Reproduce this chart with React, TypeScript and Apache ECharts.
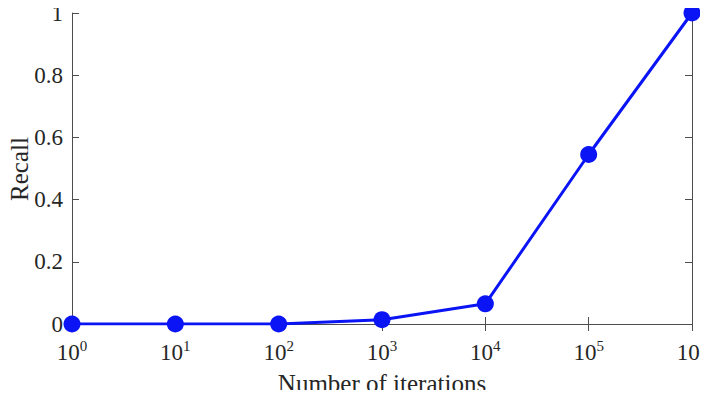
import React, { useEffect, useRef } from "react";
import * as echarts from "echarts";

const iterations = [1, 10, 100, 1000, 10000, 100000, 1000000];
const recall = [0, 0, 0, 0.014, 0.065, 0.545, 1];
const yTicks = [0, 0.2, 0.4, 0.6, 0.8, 1];
const xTitle = "Number of iterations";
const yTitle = "Recall";

const FONT = "'Liberation Serif', 'Times New Roman', serif";
const AXIS_COLOR = "#4d4d4d";
const TEXT_COLOR = "#262626";
const LINE_COLOR = "#0a14f5";

export default function App() {
  const ref = useRef<HTMLDivElement>(null);
  useEffect(() => {
    if (!ref.current) return;
    const chart = echarts.init(ref.current, undefined, { renderer: "svg" });
    const axisLine = { show: true, lineStyle: { color: AXIS_COLOR, width: 1 } };
    const axisTick = { show: true, inside: true, length: 7, lineStyle: { color: AXIS_COLOR, width: 1 } };
    chart.setOption({
      animation: false,
      backgroundColor: "#ffffff",
      grid: { left: 72, right: 16, top: 13, bottom: 74, containLabel: false, outerBoundsMode: "none" },
      graphic: [
        {
          type: "text",
          x: 382,
          y: 383,
          style: {
            text: xTitle,
            fontFamily: FONT,
            fontSize: 25,
            fill: TEXT_COLOR,
            align: "center",
            verticalAlign: "middle",
          },
        },
        {
          type: "text",
          x: 19,
          y: 169,
          rotation: Math.PI / 2,
          style: {
            text: yTitle,
            fontFamily: FONT,
            fontSize: 25,
            fill: TEXT_COLOR,
            align: "center",
            verticalAlign: "middle",
          },
        },
      ],
      xAxis: [
        {
          type: "log",
          logBase: 10,
          min: 1,
          max: 1000000,
          position: "bottom",
          axisLine,
          axisTick,
          splitLine: { show: false },
          minorTick: { show: false },
          axisLabel: {
            margin: 14,
            showMaxLabel: true,
            formatter: (v: number) => `{b|10}{s|${Math.round(Math.log10(v))}}`,
            rich: {
              b: { fontFamily: FONT, fontSize: 23, color: TEXT_COLOR, verticalAlign: "bottom", lineHeight: 26 },
              s: { fontFamily: FONT, fontSize: 15, color: TEXT_COLOR, verticalAlign: "top", padding: [0, 0, 14, 0], lineHeight: 26 },
            },
          },
        },
        {
          type: "log",
          logBase: 10,
          min: 1,
          max: 1000000,
          position: "top",
          axisLine,
          axisTick,
          axisLabel: { show: false },
          splitLine: { show: false },
        },
      ],
      yAxis: [
        {
          type: "value",
          min: 0,
          max: 1,
          interval: 0.2,
          position: "left",
          axisLine,
          axisTick,
          splitLine: { show: false },
          axisLabel: {
            margin: 9,
            fontFamily: FONT,
            fontSize: 23,
            color: TEXT_COLOR,
            formatter: (v: number) => {
              const t = yTicks.find((y) => Math.abs(y - v) < 1e-9);
              return t === undefined ? "" : String(Number(t.toFixed(1)));
            },
          },
        },
        {
          type: "value",
          min: 0,
          max: 1,
          interval: 0.2,
          position: "right",
          axisLine,
          axisTick,
          axisLabel: { show: false },
          splitLine: { show: false },
        },
      ],
      series: [
        {
          type: "line",
          xAxisIndex: 0,
          yAxisIndex: 0,
          data: iterations.map((x, i) => [x, recall[i]]),
          symbol: "circle",
          symbolSize: 17,
          lineStyle: { color: LINE_COLOR, width: 3 },
          itemStyle: { color: LINE_COLOR },
          z: 3,
        },
      ],
    });
    return () => chart.dispose();
  }, []);
  return <div ref={ref} style={{ width: 708, height: 398, margin: -8 }} />;
}
